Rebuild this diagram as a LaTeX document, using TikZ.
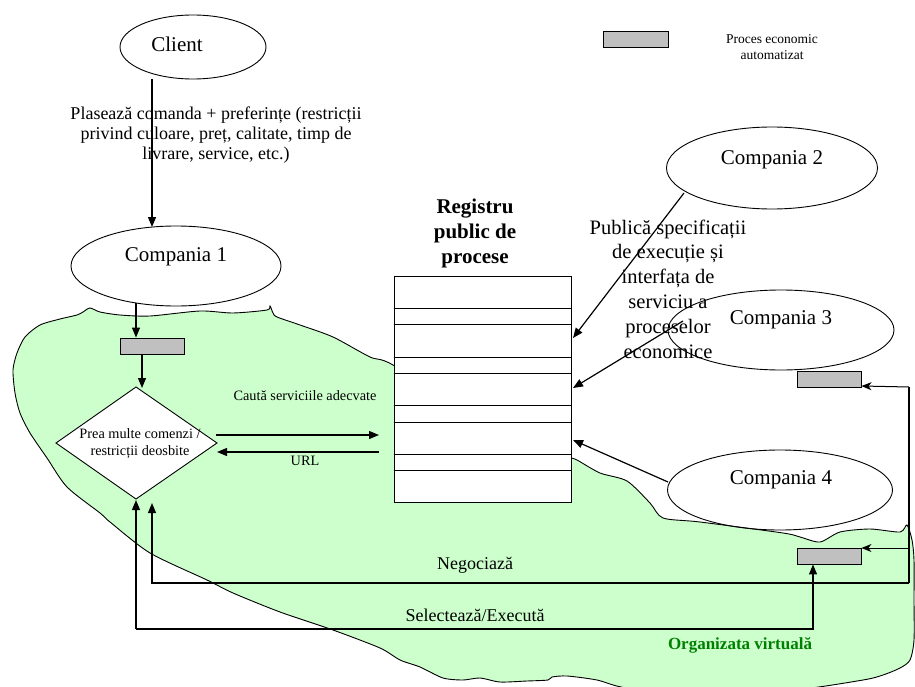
\documentclass[tikz,border=0pt]{standalone}
\usepackage{fontspec}
\setmainfont{Liberation Serif}
\usetikzlibrary{arrows.meta,shapes.geometric}
\definecolor{blobgreen}{RGB}{204,255,204}
\definecolor{procgray}{RGB}{192,192,192}
\definecolor{orggreen}{RGB}{0,128,0}
\begin{document}
\begin{tikzpicture}[x=1pt,y=-1pt,
  comp/.style={ellipse, draw, line width=0.9pt, inner sep=0},
  proc/.style={draw, fill=procgray, line width=0.9pt, minimum width=64pt, minimum height=16pt, inner sep=0},
  arr/.style={-{Triangle[length=10pt,width=8pt]}, line width=1.2pt},
  sarr/.style={-{Stealth[length=10pt,width=8pt,inset=3pt]}, line width=1pt},
  plain/.style={line width=1.2pt},
  txt/.style={inner sep=0, align=center},
  bigtxt/.style={txt, font=\fontsize{21}{25}\selectfont},
  midtxt/.style={txt, font=\fontsize{18}{20}\selectfont},
  smalltxt/.style={txt, font=\fontsize{14.3}{17}\selectfont},
]
\useasboundingbox (0,0) rectangle (915,687);

% virtual organisation blob
\fill[blobgreen, draw=black, line width=0.9pt] plot[smooth, tension=0.45] coordinates {
 (571,458) (577,460) (600,473) (627,481) (650,503) (663,518) (700,522) (783,533) (800,537) (820,542)
 (840,532) (870,529) (900,532) (907,525) (912,540) (914,560) (914,600) (914,640) (910,660)
 (900,668) (883,675) (863,680) (793,690) (700,692) (627,688) (597,680) (567,676) (552,677)
 (548,680) (527,681) (500,682) (480,678) (463,680) (443,678) (420,667) (400,660) (380,648)
 (333,630) (280,612) (233,593) (207,580) (150,553) (110,522) (100,513) (67,487) (47,458)
 (30,433) (20,413) (15,393) (13,370) (17,353) (25,337) (40,325) (60,319) (77,315) (83,312)
 (90,308) (100,312) (120,315) (150,316) (200,311) (233,313) (267,310) (270,306) (273,313)
 (277,317) (300,325) (333,337) (370,357) (393,365) (480,420) (571,458)};

% registry
\node[draw, fill=white, line width=0.9pt, minimum width=177pt, minimum height=226pt, inner sep=0] (reg) at (482.5,389) {};
\foreach \yy in {308,324,357,373,405,422,454,470}
  \draw[line width=0.9pt] (reg.west |- 0,\yy) -- (reg.east |- 0,\yy);
\node[bigtxt, font=\bfseries\fontsize{21}{25}\selectfont] (regtitle) at (475,233) {Registru\\public de\\procese};

% companies
\node[comp, minimum width=146pt, minimum height=64pt] (client) at (193,47) {};
\node[bigtxt] (clienttxt) at (177,44) {Client};
\node[comp, minimum width=210pt, minimum height=80pt] (c1) at (176,266) {};
\node[bigtxt] (c1txt) at (176,257) {Compania 1};
\node[comp, minimum width=211pt, minimum height=82pt] (c2) at (772,168) {};
\node[bigtxt] (c2txt) at (772,160) {Compania 2};
\node[comp, minimum width=226pt, minimum height=80pt] (c3) at (781,330) {};
\node[bigtxt] (c3txt) at (781,320) {Compania 3};
\node[comp, minimum width=225pt, minimum height=80pt] (c4) at (780,490) {};
\node[bigtxt] (c4txt) at (781,480) {Compania 4};

% process boxes
\node[proc] (p1) at (152,346) {};
\node[proc] (p3) at (829,379) {};
\node[proc] (p4) at (829,556) {};
\node[proc, minimum width=65pt] (legbox) at (635.5,39) {};
\node[txt, font=\fontsize{13.5}{16}\selectfont] (legtxt) at (772,47) {Proces economic\\automatizat};

% diamond
\coordinate (dtop) at (136,387);
\coordinate (dbot) at (136,499);
\coordinate (dleft) at (56,443);
\coordinate (dright) at (217,443);
\draw[fill=white, line width=0.9pt] (dtop) -- (dright) -- (dbot) -- (dleft) -- cycle;
\node[smalltxt] (dtxt) at (140,444) {Prea multe comenzi /\\restricții deosbite};

% client -> compania 1
\coordinate (x152) at (152,0);
\coordinate (x136) at (136,0);
\coordinate (x142) at (142,0);
\draw[arr] (client.south -| x152) -- (152,227);
\node[midtxt] (clientlbl) at (216,135) {Plasează comanda + preferințe (restricții\\privind culoare, preț, calitate, timp de\\livrare, service, etc.)};

% compania 1 -> process -> diamond
\draw[arr] (136,303) -- (p1.north -| x136);
\draw[arr] (p1.south -| x142) -- (142,388);

% search / URL
\coordinate (s1) at (216,435);
\coordinate (s2) at (379,435);
\coordinate (u1) at (379,452);
\coordinate (u2) at (217,452);
\draw[arr] (s1) -- (s2);
\draw[arr] (u1) -- (u2);
\node[smalltxt] (caut) at (305,396) {Caută serviciile adecvate};
\node[smalltxt] (url) at (305,461) {URL};

% publishing
\coordinate (c2o) at (684,193);
\coordinate (r2) at (573,338);
\coordinate (c3o) at (683,321);
\coordinate (r3) at (573,388);
\coordinate (c4o) at (668,482);
\coordinate (r4) at (573,440);
\draw[arr] (c2o) -- (r2);
\draw[arr] (c3o) -- (r3);
\draw[arr] (c4o) -- (r4);
\node[bigtxt, font=\fontsize{20.5}{24.8}\selectfont] (publ) at (668,289) {Publică specificații\\de execuție și\\interfața de\\serviciu a\\proceselor\\economice};

% negotiation
\coordinate (nR) at (909,583);
\coordinate (nL) at (152,583);
\coordinate (nT) at (909,387);
\coordinate (nM) at (909,548);
\draw[arr] (nR) -- (nL) -- (152,503);
\draw[plain] (nR) -- (nT);
\draw[sarr] (nT) -- (p3.east |- 0,386);
\draw[sarr] (nM) -- (p4.east |- nM);
\node[midtxt] (neg) at (475,565) {Negociază};

% select / execute
\coordinate (eL) at (136,629);
\coordinate (eR) at (813,629);
\draw[arr] (eL) -- (136,500);
\draw[arr] (eL) -- (eR) -- (p4.south -| eR);
\node[midtxt] (sel) at (475,615) {Selectează/Execută};

\node[txt, text=orggreen, font=\bfseries\fontsize{17}{20}\selectfont] (org) at (740,645) {Organizata virtuală};
\end{tikzpicture}
\end{document}
